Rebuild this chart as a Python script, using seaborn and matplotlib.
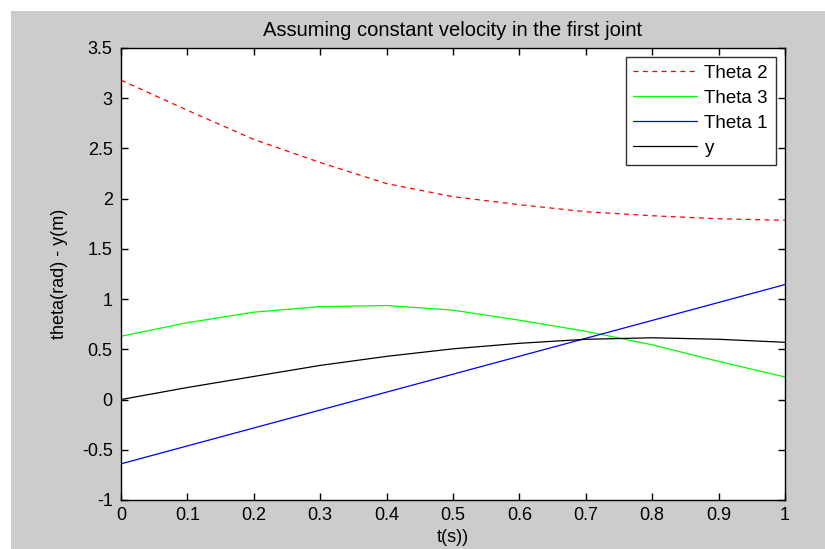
import matplotlib
matplotlib.use("Agg")
import matplotlib.pyplot as plt
from matplotlib import font_manager
from matplotlib.patches import Rectangle
import pandas as pd
import seaborn as sns

# Joint trajectories sampled every 0.1 s
t = [0.0, 0.1, 0.2, 0.3, 0.4, 0.5, 0.6, 0.7, 0.8, 0.9, 1.0]
theta2 = [3.18, 2.88, 2.59, 2.36, 2.15, 2.02, 1.94, 1.87, 1.83, 1.80, 1.785]
theta3 = [0.63, 0.765, 0.87, 0.925, 0.936, 0.89, 0.79, 0.68, 0.545, 0.38, 0.225]
y_pos = [0.0, 0.12, 0.23, 0.34, 0.43, 0.505, 0.56, 0.60, 0.615, 0.60, 0.57]

# First joint moves at constant velocity: straight line between its end values
t_lin = [0.0, 1.0]
theta1 = [-0.64, 1.145]

x_ticks = [0, 0.1, 0.2, 0.3, 0.4, 0.5, 0.6, 0.7, 0.8, 0.9, 1]
x_tick_labels = ["0", "0.1", "0.2", "0.3", "0.4", "0.5", "0.6", "0.7", "0.8", "0.9", "1"]
y_ticks = [-1, -0.5, 0, 0.5, 1, 1.5, 2, 2.5, 3, 3.5]
y_tick_labels = ["-1", "-0.5", "0", "0.5", "1", "1.5", "2", "2.5", "3", "3.5"]

df = pd.DataFrame({"t": t, "Theta 2": theta2, "Theta 3": theta3, "y": y_pos})
df_lin = pd.DataFrame({"t": t_lin, "Theta 1": theta1})

sns.set_style("ticks")
names = {f.name for f in font_manager.fontManager.ttflist}
family = "Liberation Sans Narrow" if "Liberation Sans Narrow" in names else "Liberation Sans"
plt.rcParams["font.family"] = [family, "DejaVu Sans"]
plt.rcParams["text.color"] = "black"
plt.rcParams["axes.labelcolor"] = "black"

fig = plt.figure(figsize=(8.25, 5.49), dpi=100, facecolor="white")
bg = Rectangle((11 / 825, 0), 1, (549 - 11) / 549, transform=fig.transFigure,
               facecolor="#cccccc", edgecolor="none", zorder=-10)
fig.patches.append(bg)
ax = fig.add_axes([121 / 825, 49 / 549, 664 / 825, 452 / 549])
ax.set_facecolor("white")

sns.lineplot(data=df, x="t", y="Theta 2", ax=ax, color="#ff0000",
             linewidth=0.9, label="Theta 2")
ax.lines[-1].set_dashes((4, 3.5))
sns.lineplot(data=df, x="t", y="Theta 3", ax=ax, color="#00ff00",
             linewidth=0.9, label="Theta 3")
sns.lineplot(data=df_lin, x="t", y="Theta 1", ax=ax, color="#0000ff",
             linewidth=0.9, label="Theta 1")
sns.lineplot(data=df, x="t", y="y", ax=ax, color="#000000",
             linewidth=0.9, label="y")

ax.set_xlim(0, 1)
ax.set_ylim(-1, 3.5)
ax.set_xticks(x_ticks)
ax.set_xticklabels(x_tick_labels)
ax.set_yticks(y_ticks)
ax.set_yticklabels(y_tick_labels)
ax.tick_params(direction="in", length=5, width=1, colors="black",
               labelsize=13, top=True, right=True, pad=6)
ax.tick_params(axis="x", pad=5)
for s in ax.spines.values():
    s.set_visible(True)
    s.set_color("black")
    s.set_linewidth(1.0)

ax.set_xlabel("t(s))", fontsize=13, labelpad=4)
ax.set_ylabel("theta(rad) - y(m)", fontsize=13, labelpad=10)
ax.set_title("Assuming constant velocity in the first joint", fontsize=14.5, pad=9)

leg = ax.legend(loc="upper right", fontsize=13.5, frameon=True, fancybox=False,
                handlelength=3.4, borderpad=0.4, labelspacing=0.42,
                handletextpad=0.4, borderaxespad=0.5)
leg.get_frame().set_edgecolor("#303030")
leg.get_frame().set_linewidth(1.0)
leg.get_frame().set_alpha(1)
leg.get_lines()[0].set_dashes((4, 3.5))

fig.savefig("out.png", dpi=100, facecolor=fig.get_facecolor())
